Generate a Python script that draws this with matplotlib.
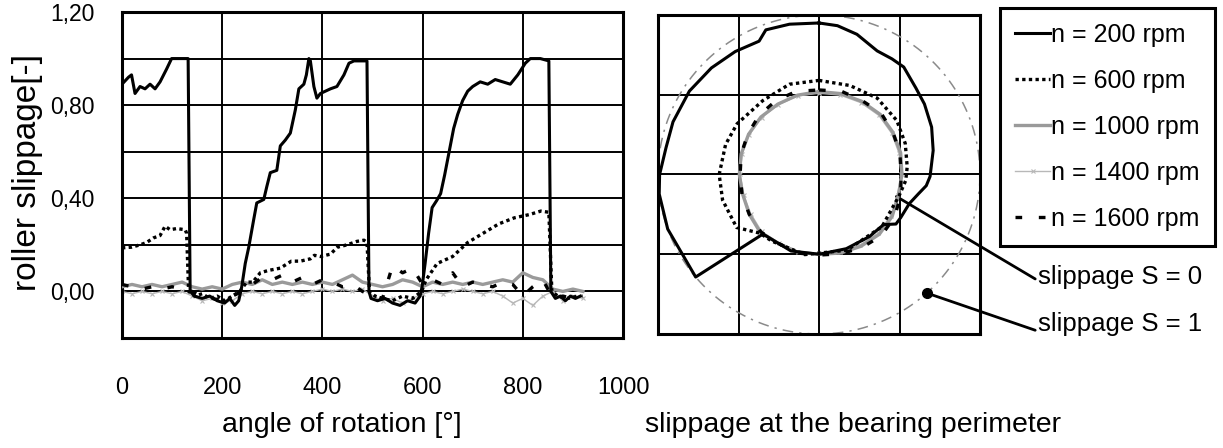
import numpy as np
import matplotlib
matplotlib.use("Agg")
import matplotlib.pyplot as plt
from matplotlib.lines import Line2D

plt.rcParams['font.family'] = ['Liberation Sans', 'DejaVu Sans']

# ---------------- data: left chart (roller slippage vs angle of rotation) -------------
angle_200 = [0, 13, 19, 26, 36, 46, 56, 66, 76, 89, 99, 115, 132, 136, 145, 160, 175, 190, 205, 215,
             225, 233, 239, 246, 253, 263, 269, 283, 289, 296, 309, 316, 326, 336, 346, 353, 363, 368, 373, 376,
             383, 389, 396, 416, 429, 443, 453, 463, 489, 493, 497, 510, 525, 540, 555, 570, 585, 595, 599, 605,
             612, 619, 628, 636, 644, 653, 662, 670, 680, 690, 700, 715, 730, 745, 760, 775, 790, 805, 815, 835,
             852, 856, 865, 875, 885, 895, 905, 915]
slip_200 = [0.89, 0.92, 0.93, 0.85, 0.88, 0.87, 0.89, 0.87, 0.90, 0.955, 1.0, 1.0, 1.0, 0.0, -0.02, -0.03, -0.02, -0.04, -0.05, -0.03,
            -0.06, -0.04, 0.02, 0.12, 0.19, 0.31, 0.38, 0.395, 0.45, 0.51, 0.52, 0.625, 0.65, 0.68, 0.78, 0.87, 0.89, 0.93, 1.0, 0.99,
            0.88, 0.83, 0.85, 0.87, 0.88, 0.93, 0.98, 0.99, 0.99, 0.0, -0.03, -0.04, -0.03, -0.05, -0.06, -0.04, -0.05, -0.02, 0.02, 0.12,
            0.25, 0.36, 0.39, 0.42, 0.5, 0.6, 0.7, 0.76, 0.82, 0.86, 0.88, 0.9, 0.89, 0.91, 0.9, 0.89, 0.93, 0.98, 1.0, 1.0,
            0.99, 0.0, -0.03, -0.02, -0.04, -0.02, -0.03, -0.02]

angle_600 = [0, 19, 36, 49, 63, 76, 86, 96, 109, 126, 129, 133, 145, 160, 175, 190, 205, 220, 235, 249,
             261, 276, 292, 316, 338, 356, 376, 384, 396, 416, 430, 449, 469, 483, 489, 494, 505, 520, 540, 560,
             580, 598, 607, 629, 660, 690, 721, 752, 783, 813, 836, 852, 858, 870, 890, 910]
slip_600 = [0.187, 0.19, 0.2, 0.21, 0.23, 0.24, 0.28, 0.265, 0.27, 0.265, 0.25, 0.0, -0.02, -0.01, -0.03, -0.02, -0.04, -0.02, 0.0, 0.04,
            0.04, 0.08, 0.09, 0.1, 0.13, 0.13, 0.14, 0.155, 0.15, 0.16, 0.19, 0.2, 0.215, 0.22, 0.21, 0.0, -0.02, -0.03, -0.04, -0.02,
            -0.03, 0.0, 0.05, 0.12, 0.15, 0.21, 0.25, 0.29, 0.316, 0.33, 0.345, 0.34, 0.0, -0.02, -0.03, -0.02]

angle_fine = [0, 20, 40, 60, 80, 100, 120, 140, 160, 180, 200, 220, 240, 260, 280, 300, 320, 340, 360, 380,
              400, 420, 440, 460, 480, 500, 520, 540, 560, 580, 600, 620, 640, 660, 680, 700, 720, 740, 760, 780,
              800, 820, 840, 860, 880, 900, 920]
slip_1000 = [0.02, 0.03, 0.02, 0.03, 0.02, 0.03, 0.04, 0.02, 0.01, 0.02, 0.01, 0.03, 0.04, 0.03, 0.05, 0.03, 0.04, 0.03, 0.04, 0.03,
             0.04, 0.03, 0.05, 0.07, 0.04, 0.03, 0.02, 0.03, 0.05, 0.04, 0.02, 0.04, 0.03, 0.04, 0.03, 0.04, 0.03, 0.04, 0.05, 0.04,
             0.08, 0.06, 0.05, 0.01, 0.0, 0.01, 0.0]
slip_1400 = [0.0, -0.01, 0.0, -0.01, 0.0, -0.01, 0.0, -0.02, -0.04, -0.03, -0.05, -0.04, -0.01, 0.0, -0.01, 0.0, -0.01, 0.0, -0.01, 0.0,
             0.01, 0.0, 0.01, 0.0, 0.01, -0.02, -0.04, -0.03, -0.05, -0.03, -0.01, 0.0, -0.01, 0.0, 0.01, 0.0, -0.01, 0.0, -0.02, -0.05,
             -0.03, -0.06, -0.02, 0.0, -0.04, -0.02, -0.03]
slip_1600 = [0.03, 0.02, 0.01, 0.02, 0.01, 0.02, 0.01, 0.0, -0.02, -0.03, -0.04, -0.02, 0.0, 0.03, 0.06, 0.05, 0.07, 0.04, 0.06, 0.03,
             0.05, 0.04, 0.02, 0.03, 0.0, -0.02, -0.03, 0.11, 0.08, 0.1, 0.03, 0.05, 0.03, 0.08, 0.02, 0.04, 0.03, 0.02, 0.04, 0.03,
             -0.02, 0.02, 0.05, -0.03, -0.02, -0.03, -0.02]

x_ticks = [0, 200, 400, 600, 800, 1000]
x_tick_labels = ['0', '200', '400', '600', '800', '1000']
y_ticks = [0.0, 0.4, 0.8, 1.2]
y_tick_labels = ['0,00', '0,40', '0,80', '1,20']

# ---------------- data: right chart (slippage at the bearing perimeter) ----------------
# angle measured clockwise from top [deg], slippage S [-]
perim_200 = [0, 7, 15, 25, 32, 38, 48, 56, 67, 78, 91, 96, 101, 108, 118, 123, 128, 136, 141, 160,
             180, 200, 223, 230, 250, 263, 270, 280, 290, 303, 315, 326, 336, 340, 349, 360]
s_200 = [0.90, 0.88, 0.82, 0.71, 0.71, 0.71, 0.62, 0.58, 0.52, 0.45, 0.38, 0.34, 0.26, 0.18, 0.15, 0.14, 0.02, 0.0, 0.0, -0.01,
         0.0, 0.02, 0.02, 1.0, 1.0, 1.0, 0.98, 0.93, 0.93, 0.92, 0.89, 0.86, 0.83, 0.93, 0.92, 0.90]
perim_600 = [0, 19, 37, 55, 70, 85, 94, 105, 130, 160, 190, 215, 225, 237, 255, 270, 288, 302, 323, 342, 360]
s_600 = [0.18, 0.18, 0.20, 0.18, 0.14, 0.10, 0.08, 0.03, 0.02, 0.01, 0.02, 0.02, 0.04, 0.22, 0.24, 0.24, 0.22, 0.20, 0.16, 0.19, 0.18]
perim_fine = [0, 15, 30, 45, 60, 75, 90, 105, 120, 135, 150, 165, 180, 195, 210, 225, 240, 255, 270, 285,
              300, 315, 330, 345, 360]
s_1000 = [0.04, 0.05, 0.06, 0.07, 0.06, 0.05, 0.03, 0.02, 0.05, 0.06, 0.04, 0.02, 0.0, 0.01, 0.0, 0.03, 0.0, -0.02, -0.01, 0.0,
          0.01, 0.02, 0.02, 0.03, 0.04]
s_1400 = [0.02, 0.03, 0.04, 0.05, 0.04, 0.03, 0.02, 0.01, 0.03, 0.04, 0.02, 0.01, -0.01, 0.0, -0.01, 0.01, -0.02, -0.03, -0.02, -0.01,
          0.0, 0.01, 0.01, 0.02, 0.02]
s_1600 = [0.06, 0.08, 0.07, 0.09, 0.06, 0.04, 0.02, 0.05, 0.08, 0.09, 0.06, 0.03, 0.01, 0.02, 0.0, 0.02, 0.0, -0.01, -0.02, 0.0,
          0.02, 0.05, 0.07, 0.08, 0.06]
s_ref_one = 1.0          # slippage S = 1 reference circle
marker_S1_angle = 138    # position of the "S = 1" marker
marker_S0_angle = 106    # position of the "S = 0" pointer

labels = ['n = 200 rpm', 'n = 600 rpm', 'n = 1000 rpm', 'n = 1400 rpm', 'n = 1600 rpm']

# ---------------- styles ----------------
st = {
    '200': dict(color='black', lw=2.2, ls='-'),
    '600': dict(color='black', lw=2.4, ls=(0, (1, 1))),
    '1000': dict(color='#9a9a9a', lw=2.4, ls='-'),
    '1400': dict(color='#b8b8b8', lw=1.0, ls='-', marker='x', ms=3, mew=0.8),
    '1600': dict(color='black', lw=2.4, ls=(0, (2, 5))),
}

W, H = 1223, 448
fig = plt.figure(figsize=(W / 100, H / 100), dpi=100)

def fbox(x0, y0, x1, y1):
    return [x0 / W, 1 - y1 / H, (x1 - x0) / W, (y1 - y0) / H]

# ---------------- left chart ----------------
ax = fig.add_axes(fbox(122, 12, 623, 338))
ax.plot(angle_fine, slip_1400, **st['1400'], zorder=2)
ax.plot(angle_fine, slip_1000, **st['1000'], zorder=3)
ax.plot(angle_fine, slip_1600, **st['1600'], zorder=4)
ax.plot(angle_600, slip_600, **st['600'], zorder=5)
ax.plot(angle_200, slip_200, **st['200'], zorder=6)
ax.set_xlim(0, 1000)
ax.set_ylim(-0.2, 1.2)
ax.set_xticks(x_ticks)
ax.set_xticklabels(x_tick_labels)
ax.set_yticks(y_ticks)
ax.set_yticklabels(y_tick_labels)
ax.set_yticks(np.arange(-0.2, 1.21, 0.2), minor=True)
ax.grid(True, which='both', color='black', lw=1.4)
ax.tick_params(axis='both', which='both', length=0)
ax.tick_params(axis='x', labelsize=17, pad=28)
ax.tick_params(axis='y', labelsize=16.5, pad=20)
for s in ax.spines.values():
    s.set_linewidth(2.2)
ax.set_axisbelow(True)
ax.set_ylabel('roller slippage[-]', fontsize=24, va='center')
ax.yaxis.set_label_coords((28 - 122) / 501, (338 - 172) / 326)
ax.set_xlabel('angle of rotation [°]', fontsize=20.5, va='center')
ax.xaxis.set_label_coords((342 - 122) / 501, (338 - 425) / 326)

# ---------------- right chart ----------------
axr = fig.add_axes(fbox(658, 15, 980, 334))

def to_xy(ang_deg, s):
    a = np.radians(np.asarray(ang_deg, dtype=float))
    r = 0.5 + 0.5 * np.asarray(s, dtype=float)
    return r * np.sin(a), r * np.cos(a)

ref_ang = np.linspace(0, 360, 361)
rx, ry = to_xy(ref_ang, np.full_like(ref_ang, s_ref_one))
axr.plot(rx, ry, color='#8a8a8a', lw=1.1, ls=(0, (7, 4, 1.5, 4)), zorder=2)

for key, ang, sv, z in [('1400', perim_fine, s_1400, 3), ('1000', perim_fine, s_1000, 4),
                        ('1600', perim_fine, s_1600, 5), ('600', perim_600, s_600, 6),
                        ('200', perim_200, s_200, 7)]:
    x, y = to_xy(ang, sv)
    axr.plot(x, y, **st[key], zorder=z)

mx, my = to_xy([marker_S1_angle], [1.0])
axr.plot(mx, my, 'o', color='black', ms=7, zorder=8)
px, py = to_xy([marker_S0_angle], [0.0])

axr.set_xlim(-1, 1)
axr.set_ylim(-1, 1)
axr.set_xticks([-0.5, 0, 0.5])
axr.set_yticks([-0.5, 0, 0.5])
axr.set_xticklabels([])
axr.set_yticklabels([])
axr.tick_params(length=0)
axr.grid(True, color='black', lw=1.4)
axr.set_axisbelow(True)
for s in axr.spines.values():
    s.set_linewidth(2.2)
axr.set_xlabel('slippage at the bearing perimeter', fontsize=20.5, va='center')
axr.xaxis.set_label_coords((853 - 658) / 322, (334 - 425) / 319)

arrow = dict(arrowstyle='-', lw=2.0, color='black', shrinkA=0, shrinkB=0)
axr.annotate('slippage S = 0', xy=(px[0], py[0]), xycoords='data',
             xytext=(1038 / W, 1 - 277 / H), textcoords='figure fraction',
             fontsize=18.5, ha='left', va='center', annotation_clip=False,
             arrowprops=dict(arrow, relpos=(0, 0.35)))
axr.annotate('slippage S = 1', xy=(mx[0], my[0]), xycoords='data',
             xytext=(1038 / W, 1 - 324 / H), textcoords='figure fraction',
             fontsize=18.5, ha='left', va='center', annotation_clip=False,
             arrowprops=dict(arrow, relpos=(0, 0.2)))

# ---------------- legend ----------------
handles = [Line2D([], [], **{k: v for k, v in st[key].items()}) for key in ['200', '600', '1000', '1400', '1600']]
leg = fig.legend(handles, labels, loc='upper left', bbox_to_anchor=(1000 / W, 1 - 8 / H),
                 frameon=True, fancybox=False, edgecolor='black', fontsize=18,
                 handlelength=1.4, handletextpad=0.05, labelspacing=0.88, borderpad=0.6,
                 borderaxespad=0, framealpha=1)
leg.get_frame().set_linewidth(2.2)

fig.savefig('out.png', dpi=100)
